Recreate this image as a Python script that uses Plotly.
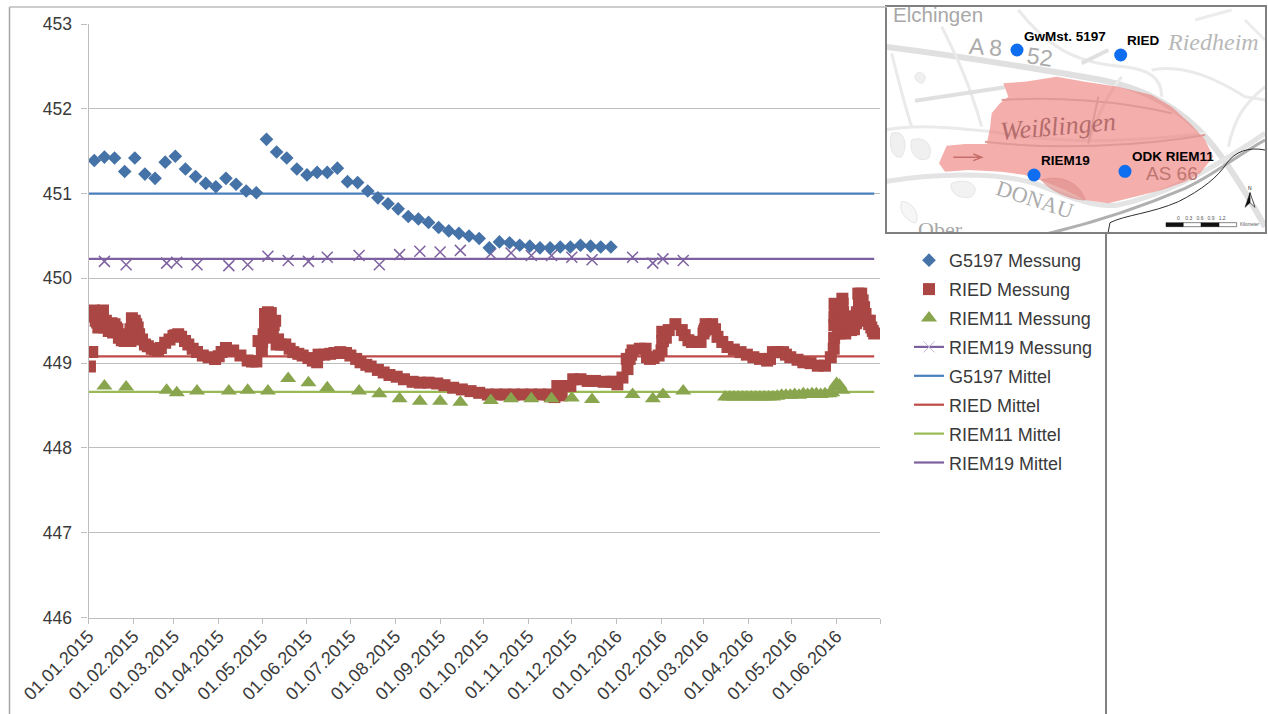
import pandas as pd
import plotly.graph_objects as go

W = 1268
H = 714

g5197_days = [4, 11, 18, 25, 32, 39, 46, 53, 60, 67, 74, 81, 88, 95, 102, 109, 116, 123, 130, 137,
              144, 151, 158, 165, 172, 179, 186, 193, 200, 207, 214, 221, 228, 235, 242, 249, 256,
              263, 270, 277, 284, 291, 298, 305, 312, 319, 326, 333, 340, 347, 354, 361]
g5197_values = [451.39, 451.43, 451.42, 451.26, 451.42, 451.23, 451.18, 451.37, 451.44, 451.29,
                451.20, 451.12, 451.08, 451.18, 451.11, 451.03, 451.01, 451.64, 451.49, 451.42,
                451.29, 451.22, 451.25, 451.25, 451.30, 451.14, 451.13, 451.03, 450.95, 450.88,
                450.82, 450.73, 450.70, 450.66, 450.60, 450.56, 450.53, 450.50, 450.47, 450.36,
                450.43, 450.42, 450.39, 450.38, 450.36, 450.36, 450.37, 450.37, 450.39, 450.38,
                450.37, 450.37]

ried_days = [1, 2.6, 3.8, 5, 6.8, 8, 10, 12, 14, 16, 18, 20, 22, 25, 28, 29, 30, 32, 34, 35, 37,
             39, 41, 43.7, 46, 48, 50, 53, 56, 58.7, 60, 62, 64, 66.7, 69, 72, 75, 79, 83, 87.5,
             90, 92, 95, 100, 105, 110, 113, 116, 117.5, 119.8, 121, 122, 124, 126, 127.4, 128,
             130, 133, 136, 139, 141.5, 145, 148, 152, 155, 158, 159, 163, 167, 170, 174, 178,
             181, 185, 188, 192, 195, 200, 204, 208, 213, 218, 224, 229, 235, 241, 246, 252, 258,
             264, 270, 276, 282, 288, 294, 300, 306, 312, 318, 319, 322, 324, 327, 330, 333, 335,
             340, 345, 350, 356, 361, 363, 365.5, 369, 372.5, 376, 381, 385, 386, 388, 390.5,
             394, 396, 396.5, 401, 405.6, 410, 412, 414.6, 417, 420, 423, 425, 426.5, 431, 433,
             434.7, 438, 441.6, 446, 450.6, 455, 459.5, 464, 469, 471, 473, 476, 480, 482, 485,
             490, 494, 499, 504, 509, 513, 515, 515.6, 516, 517.4, 519, 521, 521.5, 522, 523,
             525.5, 527, 529, 530, 532, 534, 536, 538.6, 541, 543,
             # second pass over the thick and steep parts of the band
             4.5, 6, 8.5, 11, 14, 17, 19, 21, 23, 26, 29, 31, 33, 122, 122.5, 120, 125, 127,
             129, 131, 396.5, 397, 399, 425.5, 426, 372, 374, 375, 515.3, 515.4, 515.5, 516.5,
             518, 518.5, 520.5, 520.8, 521.2, 521.8, 524, 526, 528, 530.5, 531, 532.5, 533,
             535, 537, 539.5, 540, 542]
ried_values = [448.96, 449.13, 449.62, 449.50, 449.42, 449.52, 449.62, 449.50, 449.46, 449.47,
               449.46, 449.40, 449.34, 449.26, 449.26, 449.40, 449.53, 449.50, 449.42, 449.34,
               449.28, 449.22, 449.20, 449.17, 449.16, 449.15, 449.18, 449.24, 449.28, 449.32,
               449.33, 449.34, 449.31, 449.26, 449.22, 449.17, 449.13, 449.09, 449.07, 449.05,
               449.08, 449.13, 449.18, 449.15, 449.09, 449.03, 449.02, 449.02, 449.26, 449.15,
               449.34, 449.58, 449.60, 449.59, 449.34, 449.45, 449.22, 449.22, 449.22, 449.17,
               449.13, 449.11, 449.09, 449.06, 449.03, 449.01, 449.10, 449.10, 449.11, 449.12,
               449.13, 449.12, 449.09, 449.05, 449.01, 448.98, 448.96, 448.92, 448.89, 448.86,
               448.84, 448.81, 448.78, 448.77, 448.77, 448.76, 448.74, 448.71, 448.69, 448.67,
               448.65, 448.63, 448.63, 448.63, 448.63, 448.63, 448.63, 448.63, 448.63, 448.61,
               448.60, 448.73, 448.62, 448.73, 448.73, 448.81, 448.81, 448.79, 448.79, 448.78,
               448.78, 448.78, 448.75, 448.83, 448.93, 449.15, 449.17, 449.17, 449.07, 449.05,
               449.06, 449.09, 449.15, 449.37, 449.39, 449.46, 449.39, 449.33, 449.27, 449.25,
               449.25, 449.25, 449.35, 449.46, 449.46, 449.40, 449.31, 449.25, 449.19, 449.16,
               449.13, 449.10, 449.07, 449.05, 449.03, 449.05, 449.13, 449.13, 449.13, 449.10,
               449.07, 449.04, 449.01, 449.00, 448.97, 448.97, 449.07, 449.17, 449.70, 449.60,
               449.45, 449.35, 449.76, 449.60, 449.45, 449.35, 449.55, 449.39, 449.40, 449.55,
               449.82, 449.82, 449.66, 449.50, 449.42, 449.35,
               449.55, 449.48, 449.45, 449.42, 449.38, 449.36, 449.42, 449.30, 449.27, 449.30,
               449.26, 449.46, 449.46, 449.45, 449.30, 449.25, 449.48, 449.46, 449.50, 449.28,
               449.26, 449.26, 449.30, 449.38, 449.40, 449.05, 449.05, 449.10, 449.30, 449.45,
               449.55, 449.50, 449.40, 449.48, 449.66, 449.55, 449.70, 449.50, 449.45, 449.47,
               449.45, 449.47, 449.60, 449.70, 449.76, 449.74, 449.58, 449.46, 449.50, 449.38]

riem11_days = [11, 26, 54, 61, 75, 97, 110, 124, 138, 152, 165, 187, 201, 215, 229, 243, 257, 278,
               292, 306, 320, 334, 348, 376, 390, 397, 411, 440, 443, 446, 449, 452, 455, 458, 461,
               464, 467, 470, 473, 476, 479, 482, 485, 488, 491, 494, 497, 500, 503, 506, 509, 512,
               514, 516, 517, 519, 521]
riem11_values = [448.73, 448.72, 448.68, 448.65, 448.67, 448.67, 448.68, 448.67, 448.82, 448.77,
                 448.71, 448.67, 448.64, 448.58, 448.55, 448.55, 448.54, 448.56, 448.58, 448.58,
                 448.58, 448.59, 448.57, 448.63, 448.58, 448.63, 448.67, 448.60, 448.60, 448.60,
                 448.60, 448.60, 448.60, 448.60, 448.60, 448.60, 448.60, 448.60, 448.60, 448.61,
                 448.62, 448.62, 448.62, 448.63, 448.62, 448.64, 448.63, 448.64, 448.64, 448.63,
                 448.64, 448.64, 448.65, 448.72, 448.76, 448.74, 448.68]

riem19_days = [11, 26, 54, 61, 75, 97, 110, 124, 138, 152, 165, 187, 201, 215, 229, 243, 257, 278,
               292, 306, 320, 334, 348, 376, 390, 397, 411]
riem19_values = [450.20, 450.16, 450.18, 450.19, 450.16, 450.15, 450.16, 450.26, 450.21, 450.20,
                 450.25, 450.27, 450.16, 450.28, 450.32, 450.31, 450.33, 450.29, 450.30, 450.27,
                 450.27, 450.25, 450.22, 450.25, 450.18, 450.23, 450.21]

mean_days = [0, 543]
g5197_mean = [451.0, 451.0]
ried_mean = [449.08, 449.08]
riem11_mean = [448.66, 448.66]
riem19_mean = [450.23, 450.23]

tick_dates = ["2015-01-01", "2015-02-01", "2015-03-01", "2015-04-01", "2015-05-01", "2015-06-01",
              "2015-07-01", "2015-08-01", "2015-09-01", "2015-10-01", "2015-11-01", "2015-12-01",
              "2016-01-01", "2016-02-01", "2016-03-01", "2016-04-01", "2016-05-01", "2016-06-01",
              "2016-07-01"]
tick_labels = ["01.01.2015", "01.02.2015", "01.03.2015", "01.04.2015", "01.05.2015", "01.06.2015",
               "01.07.2015", "01.08.2015", "01.09.2015", "01.10.2015", "01.11.2015", "01.12.2015",
               "01.01.2016", "01.02.2016", "01.03.2016", "01.04.2016", "01.05.2016", "01.06.2016",
               ""]

# inset map, in pixels of the map crop
wells_x = [396, 707, 447, 720]
wells_y = [150, 165, 525, 514]

BLUE, RED, GREEN, PURPLE = "#4572A7", "#AA4643", "#89A54E", "#71588F"
FONT = "Liberation Sans"


def to_dates(days):
    return pd.to_datetime(days, unit="D", origin="2015-01-01")


def px_x(x):
    return x / W


def px_y(y):
    return 1 - y / H


fig = go.Figure()

# drawing order: crosses at the bottom, then the means, then the other markers
fig.add_trace(go.Scatter(x=to_dates(riem19_days), y=riem19_values, mode="markers", showlegend=False,
                         marker=dict(symbol="x-thin", size=11, line=dict(width=1.5, color="#7F63A1"))))
for name, vals, color, rank in [("G5197 Mittel", g5197_mean, "#4A7EBB", 5),
                                ("RIED Mittel", ried_mean, "#BE4B48", 6),
                                ("RIEM11 Mittel", riem11_mean, "#98B954", 7),
                                ("RIEM19 Mittel", riem19_mean, "#7D60A0", 8)]:
    fig.add_trace(go.Scatter(x=to_dates(mean_days), y=vals, mode="lines", name=name,
                             legendgroup=name, legendrank=rank,
                             line=dict(color=color, width=2.2)))
fig.add_trace(go.Scatter(x=to_dates(g5197_days), y=g5197_values, mode="markers", name="G5197 Messung",
                         legendgroup="a", legendrank=1,
                         marker=dict(symbol="diamond", size=10.5, color=BLUE)))
fig.add_trace(go.Scatter(x=to_dates(ried_days), y=ried_values, mode="markers", name="RIED Messung",
                         legendgroup="b", legendrank=2,
                         marker=dict(symbol="square", size=12, color=RED)))
fig.add_trace(go.Scatter(x=to_dates(riem11_days), y=riem11_values, mode="markers", name="RIEM11 Messung",
                         legendgroup="c", legendrank=3,
                         marker=dict(symbol="triangle-up", size=14, color=GREEN)))
# the legend key of this series has a line through it, the points do not
fig.add_trace(go.Scatter(x=[None], y=[None], mode="lines+markers", name="RIEM19 Messung",
                         legendgroup="d", legendrank=4,
                         line=dict(color="#7D60A0", width=2.2),
                         marker=dict(symbol="x-thin", size=11, line=dict(width=1, color="#C0B2D4"))))

# map traces
fig.add_trace(go.Scatter(x=wells_x, y=wells_y, xaxis="x2", yaxis="y2", mode="markers", showlegend=False,
                         marker=dict(size=13, color="#0F6EF0")))
fig.add_trace(go.Scatter(x=[165], y=[695], xaxis="x2", yaxis="y2", mode="text", showlegend=False,
                         text=["Ober"], textposition="middle center", cliponaxis=True,
                         textfont=dict(family="Liberation Serif", size=22, color="#A8A8A8")))

shapes = []
# frame around the slide content
for x0, y0, x1, y1, c, w in [(9.5, 7, 9.5, 714, "#A6A6A6", 1.5), (9.5, 7, 887, 7, "#BDBDBD", 1.5),
                             (1106, 232, 1106, 714, "#808080", 2)]:
    shapes.append(dict(type="line", xref="paper", yref="paper", x0=px_x(x0), x1=px_x(x1),
                       y0=px_y(y0), y1=px_y(y1), line=dict(color=c, width=w)))


def map_path(path, color="#DADADA", width=2, fill=None, opacity=1):
    shapes.append(dict(type="path", xref="x2", yref="y2", path=path, opacity=opacity, layer="below",
                       fillcolor=fill if fill else "rgba(0,0,0,0)",
                       line=dict(color=color, width=width)))


# motorway, river, railway, side roads
map_path("M 0,140 C 200,165 450,205 650,240 C 800,270 900,340 970,420 C 1030,490 1090,590 1140,680",
         "#E0E0E0", 6)
map_path("M 0,545 C 150,520 330,515 450,550 C 540,585 620,625 700,615 C 820,590 950,530 1140,400",
         "#E4E4E4", 5)
map_path("M 470,705 C 600,675 760,625 900,565 C 980,530 1050,470 1140,420", "#B0B0B0", 3)
map_path("M 665,720 L 675,668 C 720,645 800,640 880,605 C 950,570 1000,530 1025,490 C 1050,455 1090,440 1140,450",
         "#2E2E2E", 1)
map_path("M 20,160 C 40,240 60,320 80,380", "#EAEAEA", 3)
map_path("M 170,80 C 210,160 250,240 290,380", "#EAEAEA", 3)
map_path("M 0,390 C 100,370 220,385 320,395 C 520,430 700,430 960,400", "#EAEAEA", 3)
map_path("M 400,30 C 480,130 560,190 720,200 C 790,210 830,230 830,290", "#EAEAEA", 3)
map_path("M 710,230 C 660,290 630,370 610,430", "#EAEAEA", 3)
map_path("M 800,210 C 900,190 1000,240 1080,290 L 1140,300", "#EAEAEA", 3)
map_path("M 1030,440 C 1050,350 1080,310 1140,260", "#EAEAEA", 3)
map_path("M 930,60 L 1040,30 M 1080,60 L 1140,120", "#ECECEC", 3)
map_path("M 90,302 L 360,262", "#E0E0E0", 4)
map_path("M 590,190 L 670,150", "#E0E0E0", 4)
# blobs west of the built-up area
map_path("M 20,400 C 60,385 70,440 50,470 C 20,480 10,430 20,400 Z", "#E6E6E6", 1, "#F0F0F0")
map_path("M 80,420 C 120,405 150,440 130,475 C 100,490 70,460 80,420 Z", "#E6E6E6", 1, "#F0F0F0")
map_path("M 95,220 C 120,210 130,240 110,250 C 90,245 85,230 95,220 Z", "#E6E6E6", 1, "#F0F0F0")
map_path("M 200,550 C 250,530 290,560 260,590 C 230,600 190,580 200,550 Z", "#E6E6E6", 1, "#F2F2F2")
map_path("M 50,605 C 80,600 110,650 90,670 C 60,660 40,630 50,605 Z", "#E6E6E6", 1, "#F6F6F6")
# built-up area, translucent so the roads show through
map_path("M 162,490 L 185,437 L 240,432 L 305,432 L 315,385 L 320,340 L 345,310 L 370,290 L 355,250 "
         "L 420,245 L 515,230 L 600,245 L 700,260 L 800,285 L 860,320 L 920,375 L 960,420 L 985,470 "
         "L 945,520 L 900,545 L 830,570 L 750,590 L 670,610 L 600,600 L 540,570 L 480,545 L 420,525 "
         "L 350,515 L 250,510 L 180,515 Z", "rgba(0,0,0,0)", 0, "#EE7C78", 0.62)
map_path("M 350,300 C 500,290 700,300 860,340 M 300,425 C 500,450 760,440 960,405 M 640,290 L 610,430",
         "#E09A96", 2)
map_path("M 470,540 C 540,520 590,560 600,600 C 560,600 490,570 470,540 Z", "#DD8888", 1, "#E29490", 0.7)
map_path("M 205,472 L 290,472 M 265,462 L 290,472 L 265,482", "#C56E6A", 1.5)
# scale bar and north arrow
map_path("M 843,668 H 895 V 680 H 843 Z M 948,668 H 1002 V 680 H 948 Z", "#111111", 0.5, "#111111")
map_path("M 895,668 H 948 V 680 H 895 Z M 1002,668 H 1055 V 680 H 1002 Z", "#111111", 0.5, "#FFFFFF")
map_path("M 1095,578 L 1080,622 L 1095,608 Z", "#111111", 0.5, "#111111")
map_path("M 1095,578 L 1110,622 L 1095,608 Z", "#111111", 0.7, "#FFFFFF")

annotations = []


def map_text(x, y, text, size, color, family=FONT, angle=0, bold=False, italic=False):
    if bold:
        text = "<b>" + text + "</b>"
    if italic:
        text = "<i>" + text + "</i>"
    annotations.append(dict(x=x, y=y, xref="x2", yref="y2", text=text, showarrow=False, textangle=angle,
                            xanchor="center", yanchor="middle",
                            font=dict(family=family, size=size, color=color)))


map_text(160, 45, "Elchingen", 20.5, "#A8A8A8")
map_text(302, 140, "A 8", 23, "#ABABAB", angle=4)
map_text(465, 172, "52", 23, "#ABABAB", angle=8)
map_text(985, 125, "Riedheim", 24, "#B8B8B8", family="Liberation Serif", italic=True)
map_text(520, 380, "Weißlingen", 26, "#B36C6C", family="Liberation Serif", italic=True, angle=-5)
map_text(450, 600, "DONAU", 22, "#ACACAC", family="Liberation Serif", angle=18)
map_text(862, 520, "AS 66", 19, "#BE7570")
map_text(540, 110, "GwMst. 5197", 13.5, "#000000", bold=True)
map_text(775, 122, "RIED", 13.5, "#000000", bold=True)
map_text(542, 482, "RIEM19", 13.5, "#000000", bold=True)
map_text(865, 470, "ODK RIEM11", 13.5, "#000000", bold=True)
map_text(1095, 565, "N", 5, "#222222")
map_text(950, 655, "0    0.3   0.6   0.9   1.2", 5, "#555555")
map_text(1095, 674, "Kilometer", 4.5, "#555555")

fig.update_layout(
    width=W, height=H, autosize=False,
    margin=dict(l=0, r=0, t=0, b=0, autoexpand=False),
    paper_bgcolor="white", plot_bgcolor="white",
    font=dict(family=FONT, size=17.5, color="#3A3A3A"),
    shapes=shapes, annotations=annotations,
    legend=dict(x=px_x(909), y=px_y(242), xanchor="left", yanchor="top", itemwidth=30,
                tracegroupgap=2.5, bgcolor="rgba(0,0,0,0)", font=dict(size=18, color="#3A3A3A"),
                traceorder="grouped"),
    xaxis=dict(domain=[px_x(88.5), px_x(880)], anchor="y", type="date",
               range=["2015-01-01", "2016-07-01"], tickmode="array", tickvals=tick_dates,
               ticktext=tick_labels, tickangle=-45, ticks="",
               minor=dict(ticks="outside", ticklen=5, tickcolor="#BEBEBE", tickmode="array",
                          tickvals=tick_dates, showgrid=False),
               tickfont=dict(size=18), showgrid=False, zeroline=False,
               showline=True, linecolor="#BEBEBE", linewidth=1.2),
    yaxis=dict(domain=[px_y(617.5), px_y(24)], anchor="x", range=[446, 453], dtick=1,
               ticks="outside", ticklen=6, tickcolor="#BEBEBE", ticklabelstandoff=6,
               showgrid=True, gridcolor="#BEBEBE", gridwidth=1.2, zeroline=False,
               showline=True, linecolor="#BEBEBE", linewidth=1.2),
    xaxis2=dict(domain=[px_x(887), px_x(1265)], anchor="y2", range=[6, 1140], visible=True,
                showticklabels=False, ticks="", showgrid=False, zeroline=False, showline=True,
                mirror=True, linecolor="#7F7F7F", linewidth=1.5),
    yaxis2=dict(domain=[px_y(232), px_y(7)], anchor="x2", range=[696, 21], visible=True,
                showticklabels=False, ticks="", showgrid=False, zeroline=False, showline=True,
                mirror=True, linecolor="#7F7F7F", linewidth=1.5),
)

# the page's default body margin would shift the whole picture
fig.write_html("out.html", config={"displayModeBar": False},
               post_script="document.body.style.margin='0';")
